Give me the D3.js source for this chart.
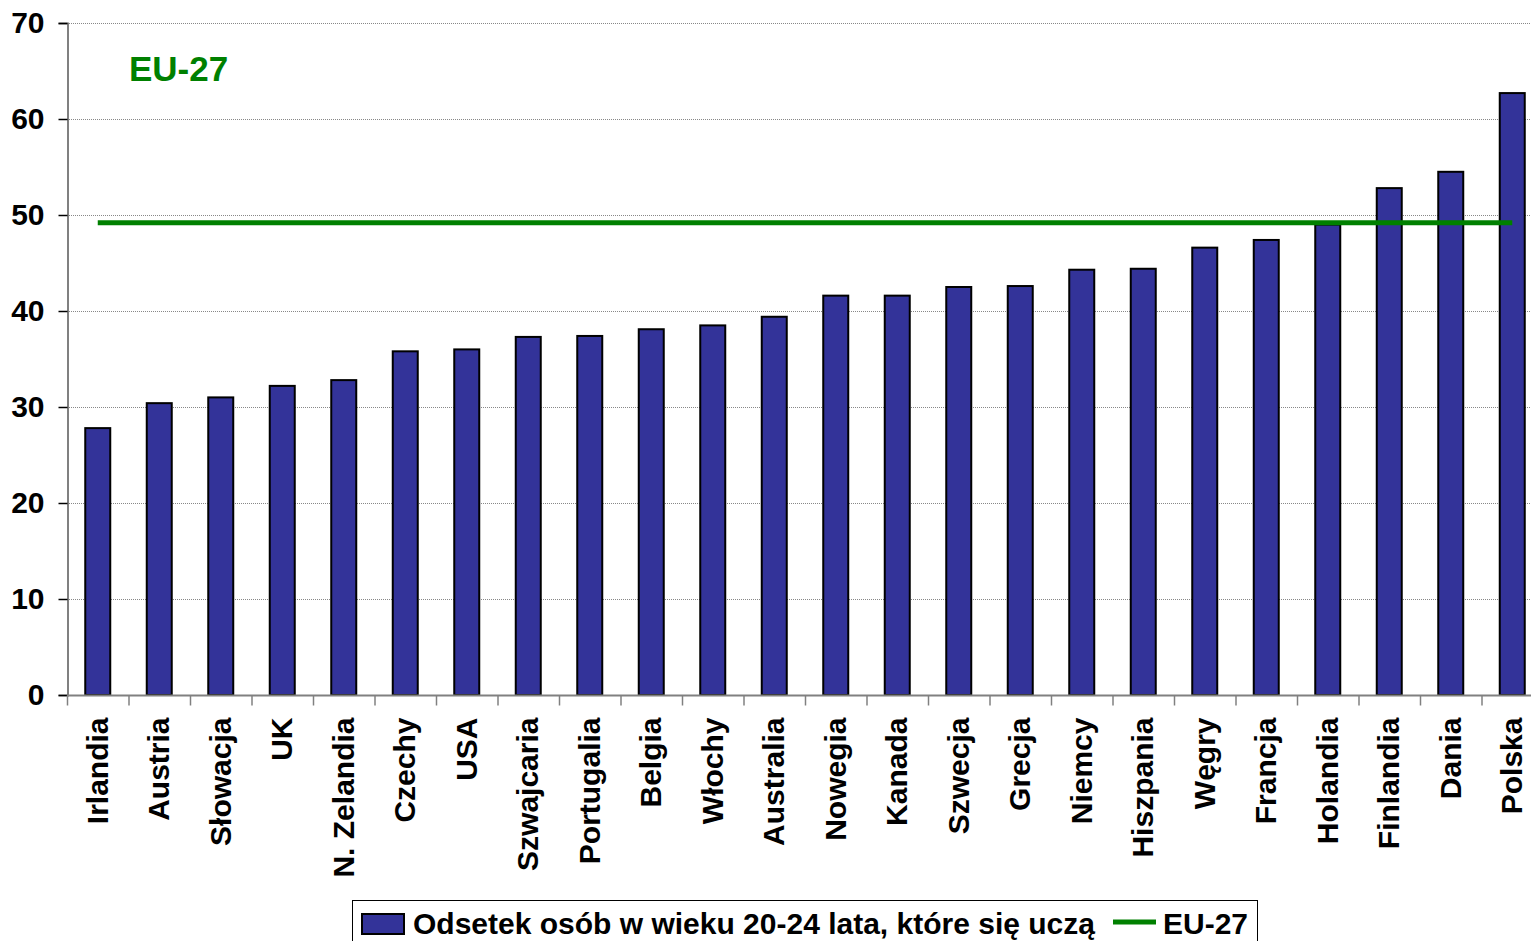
<!DOCTYPE html>
<html><head><meta charset="utf-8">
<script src="https://cdn.jsdelivr.net/npm/d3@7"></script>
<style>body{margin:0;background:#fff}svg{display:block}text{font-family:"Liberation Sans",Arial,sans-serif;font-weight:bold}</style>
</head><body><svg id="c" width="1531" height="941"></svg>
<script>
const categories = ["Irlandia","Austria","Słowacja","UK","N. Zelandia","Czechy","USA","Szwajcaria","Portugalia","Belgia","Włochy","Australia","Nowegia","Kanada","Szwecja","Grecja","Niemcy","Hiszpania","Węgry","Francja","Holandia","Finlandia","Dania","Polska"];
const values = [27.8,30.4,31.0,32.2,32.8,35.8,36.0,37.3,37.4,38.1,38.5,39.4,41.6,41.6,42.5,42.6,44.3,44.4,46.6,47.4,49.0,52.8,54.5,62.7];
const eu27 = 49.2;
const yTicks = [0,10,20,30,40,50,60,70];
const seriesName = "Odsetek osób w wieku 20-24 lata, które się uczą";
const lineName = "EU-27";

const svg = d3.select("#c");
const L = 67, R = 1543, T = 23, B = 695;
const x = d3.scaleBand().domain(categories).range([L, R]).paddingInner(0).paddingOuter(0);
const y = d3.scaleLinear().domain([0,70]).range([B, T]);

// gridlines
svg.append("g").selectAll("line").data(yTicks.slice(1)).join("line")
  .attr("x1", L).attr("x2", 1531).attr("y1", d=>y(d)+0.5).attr("y2", d=>y(d)+0.5)
  .attr("stroke", "#888").attr("stroke-width", 1).attr("stroke-dasharray", "1,1");

// y axis
const ya = svg.append("g").attr("transform", `translate(${L+0.5},0)`)
  .call(d3.axisLeft(y).tickValues(yTicks).tickSize(9).tickPadding(14));
ya.select(".domain").attr("stroke", "#808080").attr("stroke-width", 2);
ya.selectAll(".tick line").attr("stroke", "#000").attr("stroke-width", 1.5);
ya.selectAll(".tick text").attr("font-size", 30).attr("fill", "#000")
  .attr("font-family", "Liberation Sans, Arial, sans-serif").attr("font-weight", "bold");

// bars
const bw = 25;
svg.append("g").selectAll("rect").data(values).join("rect")
  .attr("x", (d,i)=>x(categories[i]) + x.bandwidth()/2 - bw/2)
  .attr("y", d=>y(d))
  .attr("width", bw).attr("height", d=>B - y(d))
  .attr("fill", "#333399").attr("stroke", "#000").attr("stroke-width", 2);

// x axis
const xa = svg.append("g").attr("transform", `translate(0,${B+0.5})`);
xa.append("line").attr("x1", L).attr("x2", 1531).attr("y1", 0).attr("y2", 0).attr("stroke", "#808080").attr("stroke-width", 2);
xa.selectAll("line.tk").data(categories).join("line").attr("class","tk")
  .attr("x1", d=>x(d)+0.5).attr("x2", d=>x(d)+0.5).attr("y1", 0).attr("y2", 10)
  .attr("stroke", "#808080").attr("stroke-width", 1.5);
xa.selectAll("text").data(categories).join("text")
  .attr("transform", d=>`translate(${x(d)+x.bandwidth()/2+10},22) rotate(-90)`)
  .attr("text-anchor", "end").attr("font-size", 30).attr("fill", "#000").text(d=>d);

// EU-27 line
svg.append("line")
  .attr("x1", x(categories[0]) + x.bandwidth()/2).attr("x2", x(categories[categories.length-1]) + x.bandwidth()/2)
  .attr("y1", y(eu27)).attr("y2", y(eu27))
  .attr("stroke", "#008000").attr("stroke-width", 5);

svg.append("text").attr("x", 129).attr("y", 81).attr("font-size", 35).attr("fill", "#008000").text(lineName);

// legend
const lg = svg.append("g");
lg.append("rect").attr("x", 352.5).attr("y", 900.5).attr("width", 905).attr("height", 60)
  .attr("fill", "#fff").attr("stroke", "#000").attr("stroke-width", 1);
lg.append("rect").attr("x", 362).attr("y", 914).attr("width", 42).attr("height", 20)
  .attr("fill", "#333399").attr("stroke", "#000").attr("stroke-width", 2);
lg.append("text").attr("x", 413).attr("y", 934).attr("font-size", 30).attr("fill", "#000").text(seriesName);
lg.append("line").attr("x1", 1113).attr("x2", 1156).attr("y1", 922).attr("y2", 922).attr("stroke", "#008000").attr("stroke-width", 5);
lg.append("text").attr("x", 1163).attr("y", 934).attr("font-size", 30).attr("fill", "#000").text(lineName);
</script></body></html>
